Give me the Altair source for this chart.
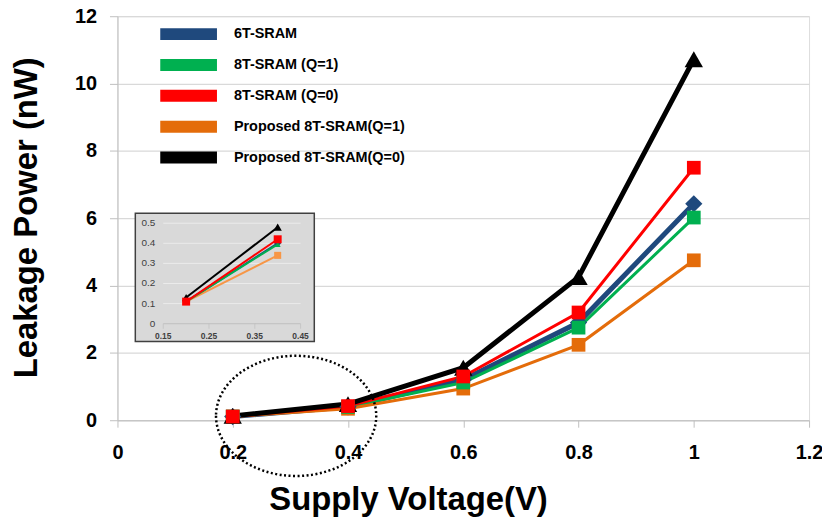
import altair as alt
import pandas as pd

# ---------------- data ----------------
voltage = [0.2, 0.4, 0.6, 0.8, 1.0]
series_names = [
    "6T-SRAM",
    "8T-SRAM (Q=1)",
    "8T-SRAM (Q=0)",
    "Proposed 8T-SRAM(Q=1)",
    "Proposed 8T-SRAM(Q=0)",
]
sram6t = [0.11, 0.40, 1.20, 2.90, 6.43]
sram8t_q1 = [0.11, 0.395, 1.12, 2.75, 6.02]
sram8t_q0 = [0.11, 0.42, 1.30, 3.20, 7.50]
prop_q1 = [0.11, 0.34, 0.94, 2.24, 4.75]
prop_q0 = [0.13, 0.48, 1.56, 4.25, 10.72]
series_values = [sram6t, sram8t_q1, sram8t_q0, prop_q1, prop_q0]

colors = ["#1F497D", "#00B050", "#FF0000", "#E46C0A", "#000000"]
inset_colors = ["#1F497D", "#00B050", "#FF0000", "#F79646", "#000000"]

# inset (zoom of 0.2 - 0.4 V)
inset_voltage = [0.2, 0.4]
inset_x_ticks = [0.15, 0.25, 0.35, 0.45]
inset_y_ticks = [0, 0.1, 0.2, 0.3, 0.4, 0.5]
inset_box_x = [0.089, 0.480]
inset_box_y = [-0.089, 0.55]

# dotted ellipse annotation (centre in data units)
ellipse_center = [0.31, 0.13]

x_ticks = [0, 0.2, 0.4, 0.6, 0.8, 1.0, 1.2]
y_ticks = [0, 2, 4, 6, 8, 10, 12]

# ---------------- tables ----------------
rows = []
for name, vals in zip(series_names, series_values):
    for v, p in zip(voltage, vals):
        rows.append({"series": name, "v": v, "p": p})
df = pd.DataFrame(rows)

inset_rows = []
for name, vals in zip(series_names, series_values):
    for v, p in zip(inset_voltage, vals[:2]):
        inset_rows.append({"series": name, "v": v, "p": p})
df_inset = pd.DataFrame(inset_rows)

FONT = "Liberation Sans"

x_axis = alt.Axis(
    values=x_ticks, format="~g", grid=False,
    domainColor="#BFBFBF", domainWidth=1, tickColor="#BFBFBF", tickSize=7,
    labelPadding=15, labelFontSize=20, labelFontWeight="bold", labelColor="black",
    labelFont=FONT, labelFlush=False, labelOverlap=False,
    title="Supply Voltage(V)", titleFont=FONT, titleFontSize=33,
    titleFontWeight="bold", titleColor="black",
    titleX=292, titleY=90, titleBaseline="alphabetic", titleAlign="center",
)
y_axis = alt.Axis(
    values=y_ticks, grid=True, gridColor="#D9D9D9", gridWidth=1.3,
    domainColor="#BFBFBF", domainWidth=1, tickColor="#BFBFBF", tickSize=8,
    labelPadding=13, labelFontSize=20, labelFontWeight="bold", labelColor="black",
    labelFont=FONT, labelFlush=False, labelOverlap=False,
    title="Leakage Power (nW)", titleFont=FONT, titleFontSize=33,
    titleFontWeight="bold", titleColor="black",
    titleX=-81, titleY=202, titleBaseline="alphabetic", titleAngle=270,
    titleAlign="center",
)

X = alt.X("v:Q", scale=alt.Scale(domain=[0, 1.2], nice=False), axis=x_axis)
Y = alt.Y("p:Q", scale=alt.Scale(domain=[0, 12], nice=False), axis=y_axis)

color_scale = alt.Scale(domain=series_names, range=colors)
legend = alt.Legend(
    orient="none", legendX=57, legendY=3.5, title=None,
    symbolType="M -2 -0.42 H 2 V 0.42 H -2 Z", symbolSize=812,
    symbolStrokeWidth=0, symbolOpacity=1,
    labelFont=FONT, labelFontWeight="bold", labelFontSize=14.5, labelColor="black",
    labelOffset=31, labelLimit=400, rowPadding=10, padding=0,
)

base = alt.Chart(df)

line_style = {
    "6T-SRAM": 5,
    "8T-SRAM (Q=1)": 3,
    "8T-SRAM (Q=0)": 3,
    "Proposed 8T-SRAM(Q=1)": 3,
    "Proposed 8T-SRAM(Q=0)": 5,
}
line_order = ["6T-SRAM", "8T-SRAM (Q=1)", "Proposed 8T-SRAM(Q=1)", "8T-SRAM (Q=0)", "Proposed 8T-SRAM(Q=0)"]
marker_order = ["6T-SRAM", "Proposed 8T-SRAM(Q=1)", "8T-SRAM (Q=1)", "Proposed 8T-SRAM(Q=0)", "8T-SRAM (Q=0)"]
marker_shape = {
    "6T-SRAM": ("diamond", 300),
    "8T-SRAM (Q=1)": ("square", 190),
    "8T-SRAM (Q=0)": ("square", 190),
    "Proposed 8T-SRAM(Q=1)": ("square", 190),
    "Proposed 8T-SRAM(Q=0)": ("triangle-up", 340),
}
cmap = dict(zip(series_names, colors))
inset_cmap = dict(zip(series_names, inset_colors))

layers = []
for s in line_order:
    layers.append(
        base.transform_filter(alt.datum.series == s)
        .mark_line(color=cmap[s], strokeWidth=line_style[s])
        .encode(x=X, y=Y)
    )
for s in marker_order:
    shp, sz = marker_shape[s]
    layers.append(
        base.transform_filter(alt.datum.series == s)
        .mark_point(filled=True, shape=shp, size=sz, opacity=1)
        .encode(x=X, y=Y, color=alt.Color("series:N", scale=color_scale, legend=legend))
    )

ellipse_df = pd.DataFrame({"v": [ellipse_center[0]], "p": [ellipse_center[1]]})
ellipse = alt.Chart(ellipse_df).mark_point(
    shape="M -1 0 A 1 0.75 0 1 0 1 0 A 1 0.75 0 1 0 -1 0",
    size=25921, filled=False, color="black", opacity=1,
    strokeWidth=2.5, strokeDash=[2, 2.5],
).encode(x=X, y=Y)
layers.append(ellipse)

main = alt.layer(*layers)

# ---------------- inset ----------------
IX = alt.Scale(domain=[0.15, 0.45], range=[46, 184], nice=False, zero=False)
IY = alt.Scale(domain=[0, 0.5], range=[309, 208], nice=False, zero=False)

box_df = pd.DataFrame({"x0": [inset_box_x[0]], "x1": [inset_box_x[1]],
                       "y0": [inset_box_y[0]], "y1": [inset_box_y[1]]})
box = alt.Chart(box_df).mark_rect(fill="#D9D9D9", stroke="#404040", strokeWidth=1.5).encode(
    x=alt.X("x0:Q", scale=IX, axis=None), x2="x1:Q",
    y=alt.Y("y0:Q", scale=IY, axis=None), y2="y1:Q",
)

grid_df = pd.DataFrame({"y": inset_y_ticks[1:], "x0": inset_x_ticks[0], "x1": inset_x_ticks[-1]})
igrid = alt.Chart(grid_df).mark_rule(color="#EBEBEB", strokeWidth=1).encode(
    x=alt.X("x0:Q", scale=IX, axis=None), x2="x1:Q",
    y=alt.Y("y:Q", scale=IY, axis=None),
)
axis_df = pd.DataFrame({"y": [0], "x0": [inset_x_ticks[0]], "x1": [inset_x_ticks[-1]]})
iaxis = alt.Chart(axis_df).mark_rule(color="#BFBFBF", strokeWidth=1).encode(
    x=alt.X("x0:Q", scale=IX, axis=None), x2="x1:Q",
    y=alt.Y("y:Q", scale=IY, axis=None),
)
xt_df = pd.DataFrame({"x": inset_x_ticks, "y": 0, "label": [f"{t:g}" for t in inset_x_ticks]})
iticks = alt.Chart(xt_df).mark_tick(color="#BFBFBF", orient="vertical", size=5, thickness=1, yOffset=2.5).encode(
    x=alt.X("x:Q", scale=IX, axis=None), y=alt.Y("y:Q", scale=IY, axis=None),
)
ixlabels = alt.Chart(xt_df).mark_text(
    font=FONT, fontSize=8.5, fontWeight="bold", color="#404040", dy=12, baseline="middle"
).encode(x=alt.X("x:Q", scale=IX, axis=None), y=alt.Y("y:Q", scale=IY, axis=None), text="label:N")
yt_df = pd.DataFrame({"x": inset_x_ticks[0], "y": inset_y_ticks, "label": [f"{t:g}" for t in inset_y_ticks]})
iylabels = alt.Chart(yt_df).mark_text(
    font=FONT, fontSize=10, color="#404040", dx=-8, align="right", baseline="middle"
).encode(x=alt.X("x:Q", scale=IX, axis=None), y=alt.Y("y:Q", scale=IY, axis=None), text="label:N")

ibase = alt.Chart(df_inset)
IXe = alt.X("v:Q", scale=IX, axis=None)
IYe = alt.Y("p:Q", scale=IY, axis=None)
inset_layers = [box, igrid, iaxis, iticks, ixlabels, iylabels]
for s in ["6T-SRAM", "Proposed 8T-SRAM(Q=1)", "8T-SRAM (Q=1)", "8T-SRAM (Q=0)", "Proposed 8T-SRAM(Q=0)"]:
    inset_layers.append(
        ibase.transform_filter(alt.datum.series == s)
        .mark_line(color=inset_cmap[s], strokeWidth=2)
        .encode(x=IXe, y=IYe)
    )
inset_marker = {
    "6T-SRAM": ("diamond", 50),
    "Proposed 8T-SRAM(Q=1)": ("square", 50),
    "8T-SRAM (Q=1)": ("triangle-up", 36),
    "Proposed 8T-SRAM(Q=0)": ("triangle-up", 70),
    "8T-SRAM (Q=0)": ("square", 64),
}
for s in ["6T-SRAM", "Proposed 8T-SRAM(Q=1)", "8T-SRAM (Q=1)", "Proposed 8T-SRAM(Q=0)", "8T-SRAM (Q=0)"]:
    shp, sz = inset_marker[s]
    inset_layers.append(
        ibase.transform_filter(alt.datum.series == s)
        .mark_point(filled=True, shape=shp, size=sz, opacity=1, color=inset_cmap[s])
        .encode(x=IXe, y=IYe)
    )
inset = alt.layer(*inset_layers)

chart = alt.layer(main, inset).resolve_scale(x="independent", y="independent").properties(
    width=695, height=406,
    autosize=alt.AutoSizeParams(type="none"),
    padding={"left": 110, "top": 7, "right": 13, "bottom": 100},
).configure_view(stroke=None).configure(font=FONT)

chart.save("out.html", embed_options={"renderer": "svg", "actions": False})
